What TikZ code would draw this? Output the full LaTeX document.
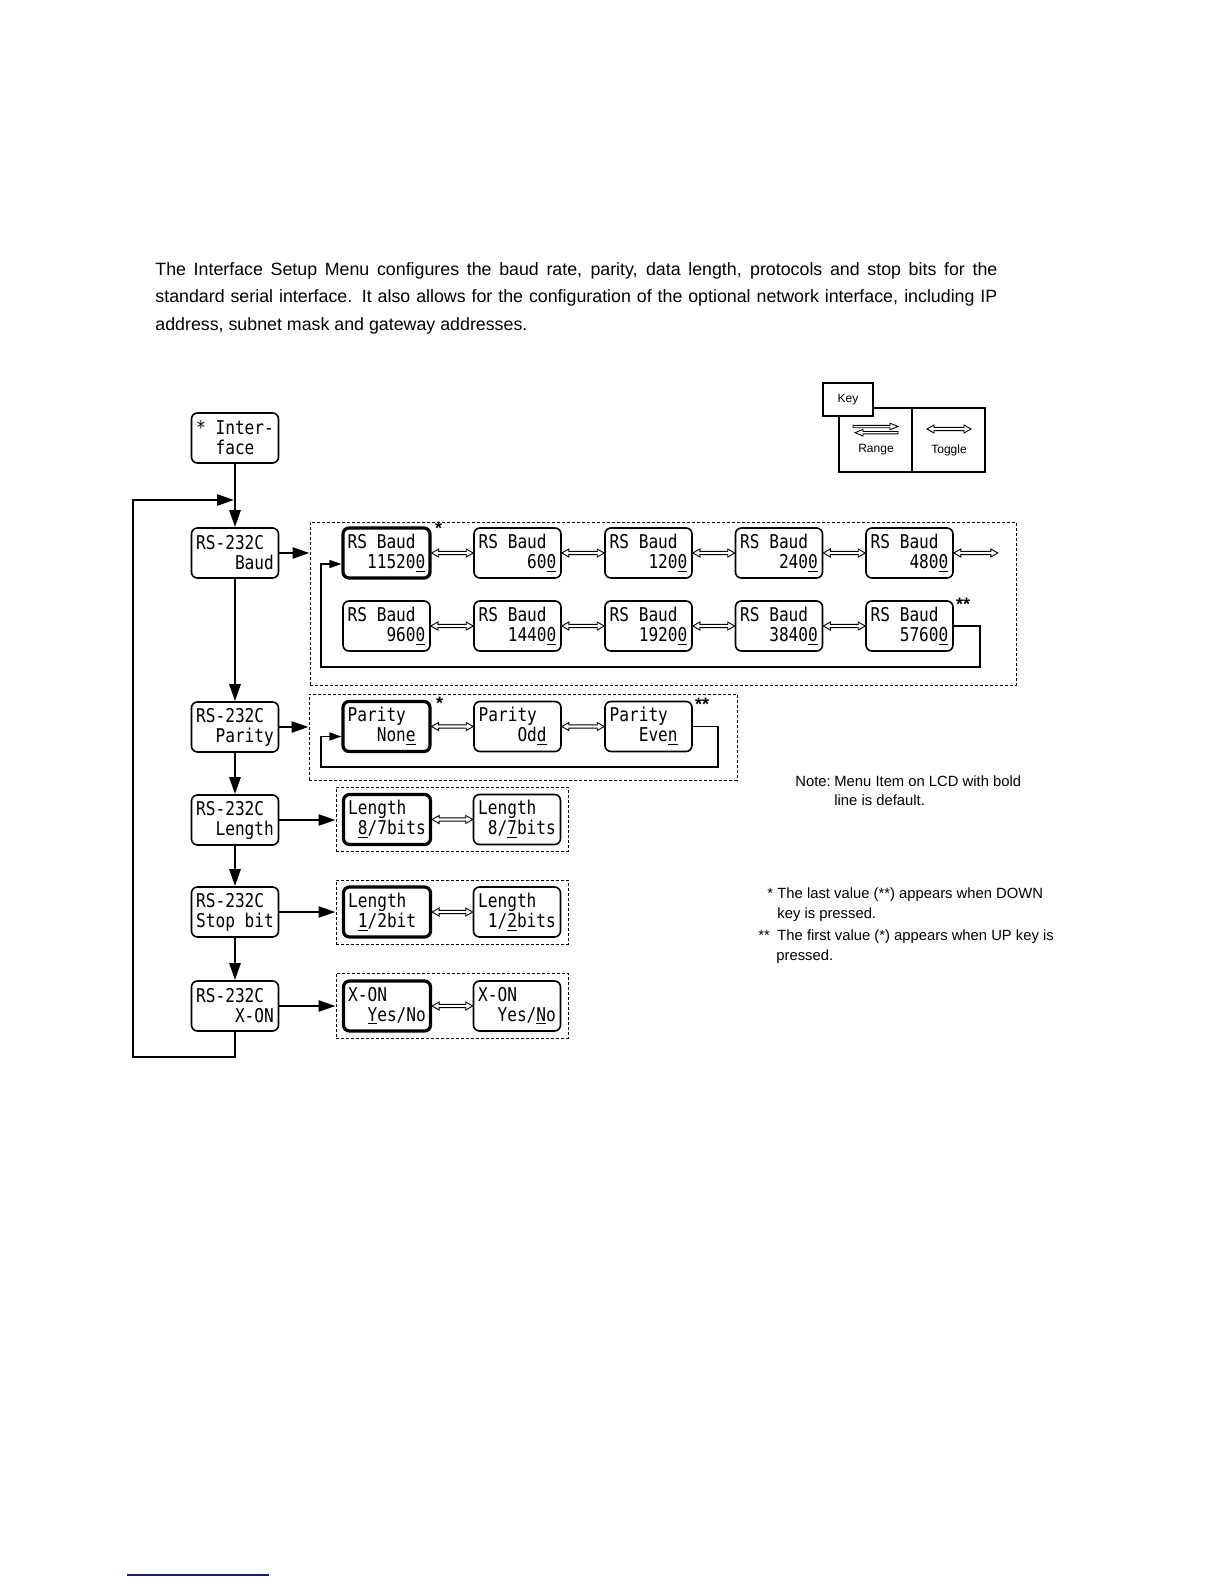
\documentclass[tikz,border=0pt]{standalone}
\usepackage{fontspec}
\setmainfont{Liberation Sans}
\newfontfamily\lcdfont[FakeStretch=0.85]{DejaVu Sans Mono}
\usetikzlibrary{arrows.meta,fit,calc}
\definecolor{footblue}{RGB}{25,25,130}
\newlength\lcdw
\AtBeginDocument{\settowidth\lcdw{\lcdfont\fontsize{9.5}{10}\selectfont 00000000}}
\newcommand\lcdsp{\phantom{0}}
\newcommand\lcdtwo[3][r]{\makebox[\lcdw][l]{#2}\\\makebox[\lcdw][#1]{#3}}
\newcommand\togarrow[2]{%
  \draw[togstyle] let \p1=(#1), \p2=(#2) in
  (\x1,\y1) -- (\x1+3.5pt,\y1+2pt) -- (\x1+3.5pt,\y1+0.8pt) -- (\x2-3.5pt,\y1+0.8pt)
  -- (\x2-3.5pt,\y1+2pt) -- (\x2,\y1) -- (\x2-3.5pt,\y1-2pt) -- (\x2-3.5pt,\y1-0.8pt)
  -- (\x1+3.5pt,\y1-0.8pt) -- (\x1+3.5pt,\y1-2pt) -- cycle;}
\tikzset{
  lcd/.style={draw, rounded corners=3pt, line width=0.8pt, minimum width=43.5pt,
    minimum height=25pt, inner sep=0pt, align=left,
    font=\lcdfont\fontsize{9.5}{10}\selectfont},
  lcddef/.style={lcd, line width=1.6pt},
  flow/.style={line width=1.3pt, -{Triangle[length=8.5pt,width=5.5pt]}},
  backloop/.style={line width=0.8pt, -{Triangle[length=6pt,width=4pt]}},
  frame/.style={draw, dash pattern=on 1.5pt off 1pt, line width=0.5pt, inner sep=0pt},
  togstyle/.style={draw, line width=0.45pt, fill=white},
  starlbl/.style={inner sep=0pt, font=\fontsize{9}{9}\selectfont\bfseries},
  intro/.style={inner sep=0pt, font=\fontsize{8.9}{11}\selectfont},
  note/.style={inner sep=0pt, font=\fontsize{7.4}{9}\selectfont},
  keytxt/.style={inner sep=0pt, font=\fontsize{6}{7}\selectfont},
}
\begin{document}
\begin{tikzpicture}[x=0.5pt,y=-0.5pt]
\fill[white] (0,0) rectangle (1224,1584);
\useasboundingbox (0,0) rectangle (1224,1584);

% intro text
\node[intro, anchor=base west] (t1) at (155,275) {\makebox[421pt][s]{The Interface Setup Menu configures the baud rate, parity, data length, protocols and stop bits for the}};
\node[intro, anchor=base west] (t2) at (155,302.5) {\makebox[421pt][s]{standard serial interface. It also allows for the configuration of the optional network interface, including IP}};
\node[intro, anchor=base west] (t3) at (155,330) {address, subnet mask and gateway addresses.};

% left column
\node[lcd] (iface) at (235,438) {\lcdtwo[c]{* Inter-}{face}};
\node[lcd] (baud) at (235,553) {\lcdtwo{RS-232C}{Baud}};
\node[lcd] (parity) at (235,727) {\lcdtwo{RS-232C}{Parity}};
\node[lcd] (length) at (235,820) {\lcdtwo{RS-232C}{Length}};
\node[lcd] (stop) at (235,912) {\lcdtwo{RS-232C}{Stop bit}};
\node[lcd] (xon) at (235,1006) {\lcdtwo{RS-232C}{X-ON}};

% frames
\node[frame, fit={(310,522) (1016,685)}] (fbaud) {};
\node[frame, fit={(309,694) (737,780)}] (fpar) {};
\node[frame, fit={(336,787) (568,851)}] (flen) {};
\node[frame, fit={(336,880) (568,944)}] (fstop) {};
\node[frame, fit={(336,973) (568,1038)}] (fxon) {};

% baud boxes
\node[lcddef] (b115200) at (386.5,553) {\lcdtwo{RS Baud}{11520\underline{0}}};
\node[lcd] (b600) at (517.5,553) {\lcdtwo{RS Baud}{60\underline{0}}};
\node[lcd] (b1200) at (648.5,553) {\lcdtwo{RS Baud}{120\underline{0}}};
\node[lcd] (b2400) at (779,553) {\lcdtwo{RS Baud}{240\underline{0}}};
\node[lcd] (b4800) at (909.5,553) {\lcdtwo{RS Baud}{480\underline{0}}};
\node[lcd] (b9600) at (386.5,626) {\lcdtwo{RS Baud}{960\underline{0}}};
\node[lcd] (b14400) at (517.5,626) {\lcdtwo{RS Baud}{1440\underline{0}}};
\node[lcd] (b19200) at (648.5,626) {\lcdtwo{RS Baud}{1920\underline{0}}};
\node[lcd] (b38400) at (779,626) {\lcdtwo{RS Baud}{3840\underline{0}}};
\node[lcd] (b57600) at (909.5,626) {\lcdtwo{RS Baud}{5760\underline{0}}};
\node[starlbl, anchor=north west] (s1) at ([xshift=1.5pt,yshift=2.5pt]b115200.north east) {*};
\node[starlbl, anchor=north west] (s2) at ([xshift=1pt,yshift=1pt]b57600.north east) {**};

% parity boxes
\node[lcddef] (pnone) at (386.5,726.5) {\lcdtwo{Parity}{Non\underline{e}\lcdsp}};
\node[lcd] (podd) at (517.5,726.5) {\lcdtwo{Parity}{Od\underline{d}\lcdsp}};
\node[lcd] (peven) at (648.5,726.5) {\lcdtwo{Parity}{Eve\underline{n}\lcdsp}};
\node[starlbl, anchor=north west] (s3) at ([xshift=2pt,yshift=1.5pt]pnone.north east) {*};
\node[starlbl, anchor=north west] (s4) at ([xshift=1pt,yshift=1.5pt]peven.north east) {**};

% length / stop / xon boxes
\node[lcddef] (lena) at (387,819.5) {\lcdtwo{Length}{\underline{8}/7bits}};
\node[lcd] (lenb) at (517,819.5) {\lcdtwo{Length}{8/\underline{7}bits}};
\node[lcddef] (sta) at (387,912) {\lcdtwo{Length}{\underline{1}/2bit\lcdsp}};
\node[lcd] (stb) at (517,912) {\lcdtwo{Length}{1/\underline{2}bits}};
\node[lcddef] (xa) at (387,1006) {\lcdtwo{X-ON}{\underline{Y}es/No}};
\node[lcd] (xb) at (517,1006) {\lcdtwo{X-ON}{Yes/\underline{N}o}};

% vertical flow
\draw[flow] (iface.south) -- (baud.north);
\draw[flow] (baud.south) -- (parity.north);
\draw[flow] (parity.south) -- (length.north);
\draw[flow] (length.south) -- (stop.north);
\draw[flow] (stop.south) -- (xon.north);

% main loop
\coordinate (lpbl) at (133,1057);
\coordinate (lptl) at (133,500);
\coordinate (lpj) at (234,500);
\draw[flow] (xon.south) |- (lpbl) -- (lptl) -- (lpj);

% into frames
\draw[flow] (baud.east) -- (baud.east -| fbaud.west);
\draw[flow] (parity.east) -- (parity.east -| fpar.west);
\draw[flow] (length.east) -- (length.east -| flen.west);
\draw[flow] (stop.east) -- (stop.east -| fstop.west);
\draw[flow] (xon.east) -- (xon.east -| fxon.west);

% toggles
\togarrow{b115200.east}{b600.west}
\togarrow{b600.east}{b1200.west}
\togarrow{b1200.east}{b2400.west}
\togarrow{b2400.east}{b4800.west}
\path (b4800.east) ++(22pt,0) coordinate (b4800r);
\togarrow{b4800.east}{b4800r}
\togarrow{b9600.east}{b14400.west}
\togarrow{b14400.east}{b19200.west}
\togarrow{b19200.east}{b38400.west}
\togarrow{b38400.east}{b57600.west}
\togarrow{pnone.east}{podd.west}
\togarrow{podd.east}{peven.west}
\togarrow{lena.east}{lenb.west}
\togarrow{sta.east}{stb.west}
\togarrow{xa.east}{xb.west}

% return loops
\coordinate (bbr) at (980,667);
\coordinate (bbl) at (321,667);
\draw[backloop] (b57600.east) -| (bbr) -- (bbl) |- ([yshift=-5.5pt]b115200.west);
\coordinate (pbr) at (718,767);
\coordinate (pbl) at (321,767);
\draw[backloop] (peven.east) -| (pbr) -- (pbl) |- ([yshift=-5pt]pnone.west);

% key legend
\draw[line width=0.6pt] (839,408) rectangle (985,472);
\draw[line width=0.6pt] (912,408) -- (912,472);
\draw[line width=0.6pt, fill=white] (823,383) rectangle (873,416);
\node[keytxt] (keyl) at (848,400) {Key};
\node[keytxt] (rangel) at (876,450) {Range};
\node[keytxt] (togglel) at (949,450) {Toggle};
\draw[togstyle] (853,425.3) -- (890,425.3) -- (890,423.2) -- (898,426.5) -- (890,429.8) -- (890,427.7) -- (853,427.7) -- cycle;
\draw[togstyle] (898,431.5) -- (863,431.5) -- (863,429.4) -- (855,432.7) -- (863,436) -- (863,433.9) -- (898,433.9) -- cycle;
\coordinate (kt1) at (927,429);
\coordinate (kt2) at (971,429);
\togarrow{kt1}{kt2}

% notes
\node[note, anchor=base west] (n1) at (795,786) {Note:};
\node[note, anchor=base west] (n2) at (834,786) {Menu Item on LCD with bold};
\node[note, anchor=base west] (n3) at (834,805) {line is default.};
\node[note, anchor=base west] (n4) at (767,898) {*};
\node[note, anchor=base west] (n5) at (777,898) {The last value (**) appears when DOWN};
\node[note, anchor=base west] (n6) at (777,918) {key is pressed.};
\node[note, anchor=base west] (n7) at (758,940) {**};
\node[note, anchor=base west] (n8) at (777,940) {The first value (*) appears when UP key is};
\node[note, anchor=base west] (n9) at (776,960) {pressed.};

% footer rule
\draw[footblue, line width=1pt] (127,1575) -- (269,1575);
\end{tikzpicture}
\end{document}
